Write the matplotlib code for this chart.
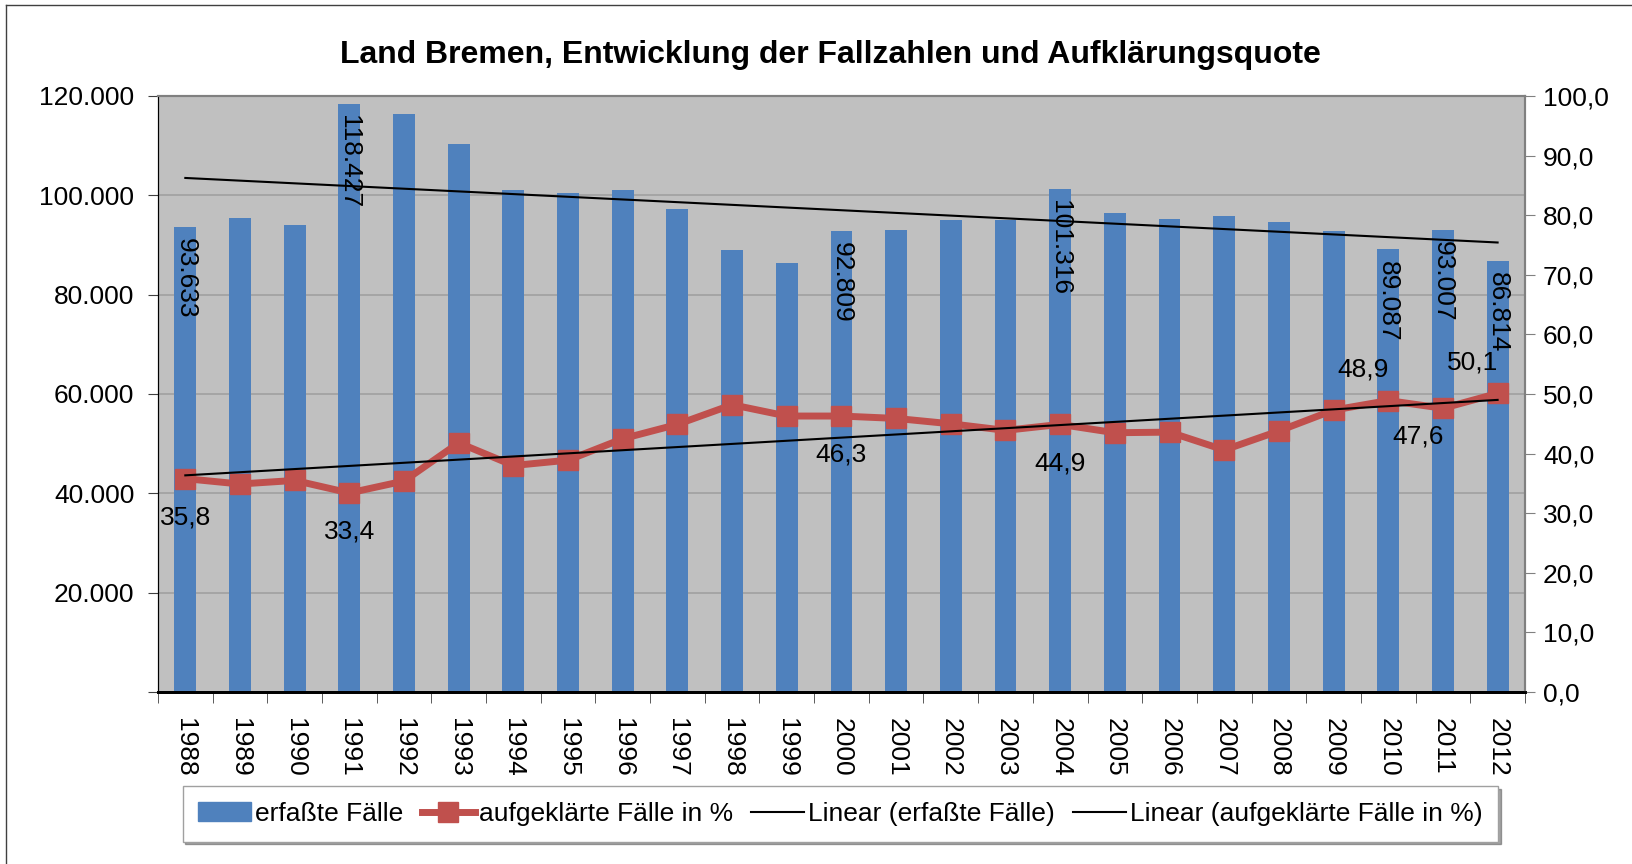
import matplotlib.pyplot as plt
import numpy as np
from matplotlib.lines import Line2D
from matplotlib.patches import Patch
from matplotlib.ticker import FuncFormatter

plt.rcParams['font.family'] = ['Liberation Sans', 'DejaVu Sans']

years = [str(y) for y in range(1988, 2013)]
faelle = [93633, 95460, 94050, 118427, 116300, 110300, 101000, 100500, 101100,
          97200, 89000, 86400, 92809, 93000, 95100, 95000, 101316, 96500,
          95300, 95900, 94600, 92900, 89087, 93007, 86814]
quote = [35.8, 34.9, 35.5, 33.4, 35.4, 41.8, 38.0, 38.9, 42.5, 44.9, 48.2, 46.3,
         46.3, 45.9, 45.0, 43.9, 44.9, 43.5, 43.6, 40.6, 43.8, 47.3, 48.9, 47.6, 50.1]

# which values get a label in the picture
bar_labels = ['1988', '1991', '2000', '2004', '2010', '2011', '2012']
pct_labels = {'1988': 'below', '1991': 'below', '2000': 'below', '2004': 'below',
              '2010': 'above', '2011': 'below', '2012': 'above'}

blue = '#4F81BD'
red = '#C0504D'
fs = 19

fig = plt.figure(figsize=(16.32, 8.64), dpi=100)
ax = fig.add_axes([0.0968, 0.199, 0.8376, 0.690])
ax.set_facecolor('#C0C0C0')
x = np.arange(len(years))

ax.bar(x, faelle, width=0.4, color=blue, zorder=2)
ax.set_xlim(-0.5, len(years) - 0.5)
ax.set_ylim(0, 120000)
ax.set_yticks(range(0, 120001, 20000))
ax.yaxis.set_major_formatter(FuncFormatter(lambda v, p: '' if v == 0 else f'{int(v):,}'.replace(',', '.')))
ax.grid(axis='y', color='#A0A0A0', lw=1.2, zorder=1)
ax.set_axisbelow(True)

ax.set_xticks(x)
ax.set_xticklabels(years, rotation=-90, fontsize=fs, va='top', ha='center')
ax.set_xticks(np.arange(-0.5, len(years), 1), minor=True)
ax.tick_params(axis='x', which='major', length=0, pad=19)
ax.tick_params(axis='x', which='minor', length=8, color='#404040')
ax.tick_params(axis='y', labelsize=fs, length=7, pad=10, color='#404040')

# trend for cases
k1, d1 = np.polyfit(x, faelle, 1)
ax.plot(x, k1 * x + d1, color='black', lw=1.5, zorder=5)

for i, y in enumerate(years):
    if y in bar_labels:
        ax.annotate(f'{faelle[i]:,}'.replace(',', '.'), (x[i], faelle[i]), xytext=(0, -8),
                    textcoords='offset points', rotation=-90, ha='center', va='top',
                    fontsize=fs, zorder=6)

ax2 = ax.twinx()
ax2.set_ylim(0, 100)
ax2.set_yticks(range(0, 101, 10))
ax2.yaxis.set_major_formatter(FuncFormatter(lambda v, p: f'{v:.1f}'.replace('.', ',')))
ax2.tick_params(axis='y', labelsize=fs, length=7, pad=6, color='#808080')
ax2.plot(x, quote, color=red, lw=5, marker='s', markersize=15, zorder=3)
k2, d2 = np.polyfit(x, quote, 1)
ax2.plot(x, k2 * x + d2, color='black', lw=1.5, zorder=5)

for i, y in enumerate(years):
    if y in pct_labels:
        dx = 0 if i < 22 else -18
        dy = -28 if pct_labels[y] == 'below' else 22
        if y == '2011':
            dy = -20
        ax2.annotate(f'{quote[i]:.1f}'.replace('.', ','), (x[i], quote[i]), xytext=(dx, dy),
                     textcoords='offset points', ha='center', va='center', fontsize=fs, zorder=6)

for a in (ax, ax2):
    a.spines['top'].set_color('#808080')
    a.spines['right'].set_color('#808080')
    a.spines['left'].set_color('black')
    a.spines['bottom'].set_color('black')
    a.spines['bottom'].set_linewidth(2)
    a.spines['top'].set_linewidth(1.5)
    a.spines['right'].set_linewidth(1.5)

fig.text(0.509, 0.936, 'Land Bremen, Entwicklung der Fallzahlen und Aufklärungsquote',
         ha='center', va='center', fontsize=23, fontweight='bold')

handles = [Patch(color=blue),
           Line2D([], [], color=red, lw=5, marker='s', markersize=14),
           Line2D([], [], color='black', lw=1.5),
           Line2D([], [], color='black', lw=1.5)]
labels = ['erfaßte Fälle', 'aufgeklärte Fälle in %', 'Linear (erfaßte Fälle)',
          'Linear (aufgeklärte Fälle in %)']
leg = fig.legend(handles, labels, loc='center', bbox_to_anchor=(0.515, 0.058), ncol=4,
                 fontsize=fs, frameon=True, fancybox=False, shadow=True,
                 handlelength=2.0, handletextpad=0.15, columnspacing=0.7,
                 borderpad=0.6, edgecolor='#A0A0A0')
leg.get_frame().set_linewidth(1)

# outer chart border
fig.add_artist(Line2D([6 / 1632, 1], [1 - 5 / 864, 1 - 5 / 864], color='#404040', lw=1))
fig.add_artist(Line2D([6 / 1632, 6 / 1632], [0, 1 - 5 / 864], color='#404040', lw=1))

plt.savefig('out.png', dpi=100)
